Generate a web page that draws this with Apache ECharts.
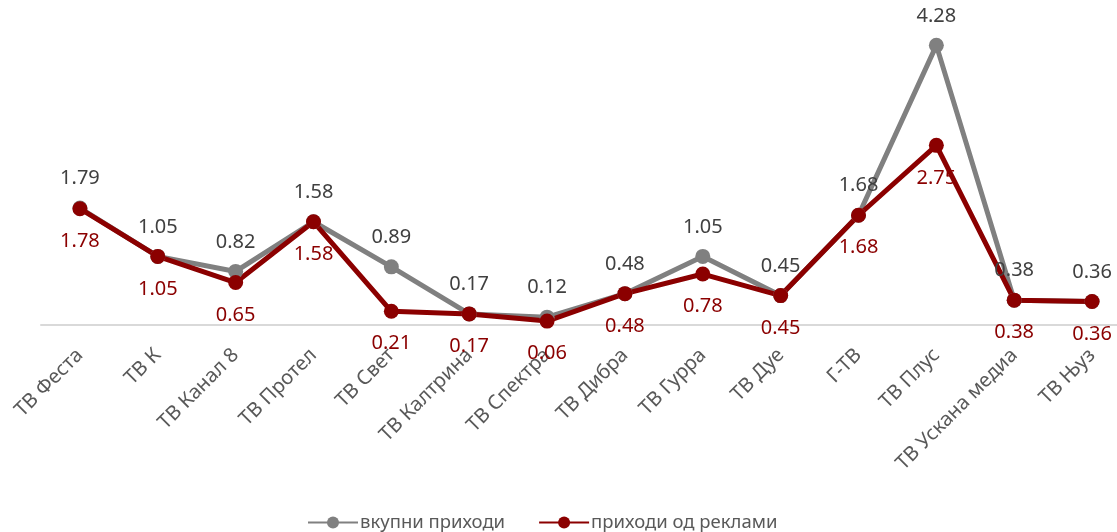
<!DOCTYPE html>
<html>
<head>
<meta charset="utf-8">
<script src="https://cdn.jsdelivr.net/npm/echarts@6/dist/echarts.min.js"></script>
<style>
  html, body { margin: 0; padding: 0; background: #fff; }
  #chart { width: 1117px; height: 532px; }
</style>
</head>
<body>
<div id="chart"></div>
<script>
// телевизии
const categories = ['ТВ Феста', 'ТВ К', 'ТВ Канал 8', 'ТВ Протел', 'ТВ Свет', 'ТВ Калтрина', 'ТВ Спектра',
  'ТВ Дибра', 'ТВ Гурра', 'ТВ Дуе', 'Г-ТВ', 'ТВ Плус', 'ТВ Ускана медиа', 'ТВ Њуз']
const totalIncome = [1.79, 1.05, 0.82, 1.58, 0.89, 0.17, 0.12, 0.48, 1.05, 0.45, 1.68, 4.28, 0.38, 0.36]
const adIncome = [1.78, 1.05, 0.65, 1.58, 0.21, 0.17, 0.06, 0.48, 0.78, 0.45, 1.68, 2.75, 0.38, 0.36]
const seriesNames = ['вкупни приходи', 'приходи од реклами']

const font = '"Noto Sans", sans-serif'
const chart = echarts.init(document.getElementById('chart'))
chart.setOption({
  animation: false,
  textStyle: { fontFamily: font },
  grid: { left: 41, width: 1090, top: 31, height: 294, containLabel: false, outerBoundsMode: 'none' },
  legend: {
    bottom: -5,
    left: 302,
    itemGap: 33,
    itemWidth: 50,
    itemHeight: 15,
    textStyle: { fontSize: 18.5, color: '#595959', fontFamily: font, padding: [0, 0, 0, -3] },
    data: seriesNames
  },
  xAxis: {
    type: 'category',
    boundaryGap: true,
    data: categories,
    axisTick: { show: false },
    axisLine: { lineStyle: { color: '#d9d9d9', width: 2 } },
    axisLabel: {
      interval: 0,
      rotate: 45,
      margin: 27,
      fontSize: 20,
      color: '#595959',
      fontFamily: font
    }
  },
  yAxis: {
    type: 'value',
    min: 0,
    max: 4.5,
    show: false,
    splitLine: { show: false }
  },
  series: [
    {
      name: seriesNames[0],
      type: 'line',
      data: totalIncome,
      symbol: 'circle',
      symbolSize: 15,
      lineStyle: { color: '#808080', width: 5 },
      itemStyle: { color: '#808080' },
      label: {
        show: true,
        position: 'top',
        distance: 12,
        fontSize: 20,
        color: '#404040',
        fontFamily: font,
        formatter: p => p.value.toFixed(2)
      }
    },
    {
      name: seriesNames[1],
      type: 'line',
      data: adIncome,
      symbol: 'circle',
      symbolSize: 15,
      lineStyle: { color: '#8b0000', width: 5 },
      itemStyle: { color: '#8b0000' },
      label: {
        show: true,
        position: 'bottom',
        distance: 15,
        fontSize: 20,
        color: '#8b0000',
        fontFamily: font,
        formatter: p => p.value.toFixed(2)
      }
    }
  ]
})
</script>
</body>
</html>
